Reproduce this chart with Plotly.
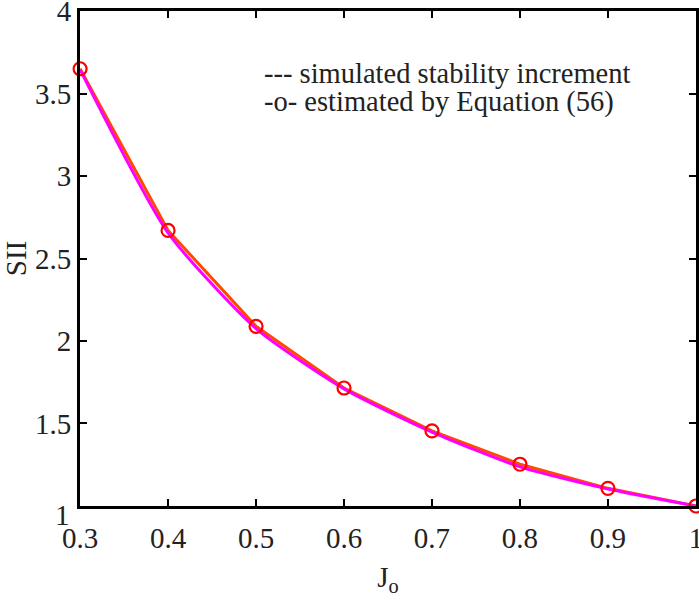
import plotly.graph_objects as go

jo = [0.3, 0.4, 0.5, 0.6, 0.7, 0.8, 0.9, 1.0]
estimated = [3.65, 2.67, 2.089, 1.715, 1.455, 1.253, 1.107, 1.0]
simulated = [3.645, 2.655, 2.075, 1.71, 1.448, 1.237, 1.103, 1.0]
x_ticks = [0.3, 0.4, 0.5, 0.6, 0.7, 0.8, 0.9, 1.0]
x_ticktext = ["0.3", "0.4", "0.5", "0.6", "0.7", "0.8", "0.9", "1"]
y_ticks = [1, 1.5, 2, 2.5, 3, 3.5, 4]
y_ticktext = ["1", "1.5", "2", "2.5", "3", "3.5", "4"]
legend_lines = ["--- simulated stability increment", "-o- estimated by Equation (56)"]

FONT = "serif"
TXT = "#222222"

fig = go.Figure()
fig.add_trace(go.Scatter(x=jo, y=estimated, mode="lines",
                         line=dict(color="#FF4A00", width=3), showlegend=False))
fig.add_trace(go.Scatter(x=jo, y=simulated, mode="lines",
                         line=dict(color="#FF00FF", width=3, shape="spline", smoothing=0.6),
                         showlegend=False))
fig.add_trace(go.Scatter(x=jo, y=estimated, mode="markers",
                         marker=dict(symbol="circle-open", size=13, color="#FF0000",
                                     line=dict(width=2.2, color="#FF0000")),
                         showlegend=False, cliponaxis=False))

W, H = 699, 605
L, R, T, B = 80, 3, 11, 99
pw, ph = W - L - R, H - T - B

for i, t in enumerate(legend_lines):
    px, py = 262, 74 + 28 * i
    fig.add_annotation(x=(px - L) / pw, y=1 - (py - T) / ph, xref="paper", yref="paper",
                       text=t, showarrow=False, xanchor="left", yanchor="middle",
                       font=dict(family=FONT, size=28.5, color=TXT))

# lowest y tick label sits slightly below its tick in the reference
fig.add_annotation(x=-8 / pw, y=y_ticks[0], xref="paper", yref="y", yshift=-9,
                   text=y_ticktext[0], showarrow=False, xanchor="right", yanchor="middle",
                   font=dict(family=FONT, size=29, color=TXT))
y_labels_shown = [""] + y_ticktext[1:]

axis_common = dict(showgrid=False, zeroline=False, showline=True, linecolor="black",
                   linewidth=3, mirror="ticks", ticks="inside", ticklen=7, tickwidth=2,
                   tickcolor="black", ticklabeloverflow="allow", automargin=False,
                   tickfont=dict(family=FONT, size=29, color=TXT))

fig.update_layout(
    width=W, height=H,
    margin=dict(l=L, r=R, t=T, b=B),
    plot_bgcolor="white", paper_bgcolor="white",
    font=dict(family=FONT),
    xaxis=dict(range=[0.2999, 1.0001], tickvals=x_ticks, ticktext=x_ticktext,
               ticklabelstandoff=4,
               title=dict(text="J<sub>o</sub>", font=dict(family=FONT, size=29, color=TXT),
                          standoff=14),
               **axis_common),
    yaxis=dict(range=[0.9999, 4.0001], tickvals=y_ticks, ticktext=y_labels_shown,
               title=dict(text="SII", font=dict(family=FONT, size=29, color=TXT),
                          standoff=0),
               **axis_common),
)

fig.write_html("out.html")
